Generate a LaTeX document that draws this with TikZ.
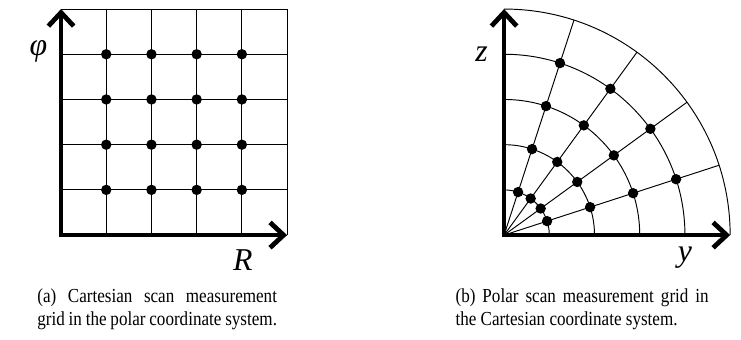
\documentclass[tikz,border=0pt]{standalone}
\usepackage{fontspec}
\setmainfont{Liberation Serif}
\newfontfamily\capfont[FakeStretch=0.86]{Liberation Serif}
\usetikzlibrary{arrows.meta}
\hyphenpenalty=10000

\tikzset{
  axes/.style={line width=3pt,line join=miter,
    {Straight Barb[length=3mm,width=5.6mm]}-{Straight Barb[length=3mm,width=5.6mm]}},
  gridline/.style={line width=0.6pt},
  dot/.style={circle,fill,inner sep=0pt,minimum size=2.3mm},
  axlabel/.style={font=\fontsize{20}{24}\selectfont\itshape},
  caption/.style={anchor=north west,align=justify,inner sep=0pt,
    font=\capfont\fontsize{12.5}{14.5}\selectfont},
}

\begin{document}
\begin{tikzpicture}
  \useasboundingbox (-1.35,-2.30) rectangle (15.04,5.20);
  % (a) measurement grid in polar coordinates
  \draw[gridline] (0,0) grid (5,5);
  \foreach \i in {1,...,4}
    \foreach \j in {1,...,4}
      \node[dot] (a\i\j) at (\i,\j) {};
  \coordinate (oa) at (0,0);
  \coordinate (ra) at (5,0);
  \coordinate (pa) at (0,5);
  \draw[axes] (pa) -- (oa) -- (ra);
  \node[axlabel] (phi) at (-0.5,4.07) {φ};
  \node[axlabel] (R) at (4.02,-0.56) {R};
  \node[caption,text width=5.3cm] (capa) at (-0.53,-1.18)
    {(a) Cartesian scan measurement grid in the polar coordinate system.};

  % (b) the same grid in cartesian coordinates
  \begin{scope}[shift={(9.8,0)}]
    \foreach \r in {1,...,5}
      \draw[gridline] (\r,0) arc[start angle=0,end angle=90,radius=\r];
    \foreach \a in {18,36,54,72}
      \draw[gridline] (0,0) -- (\a:5);
    \foreach \i in {1,...,4}
      \foreach \j in {1,...,4}
        \node[dot] (b\i\j) at (\j*18:\i) {};
    \coordinate (ob) at (0,0);
    \coordinate (yb) at (5,0);
    \coordinate (zb) at (0,5);
    \draw[axes] (zb) -- (ob) -- (yb);
    \node[axlabel] (z) at (-0.5,3.99) {z};
    \node[axlabel] (y) at (4.0,-0.5) {y};
    \node[caption,text width=5.6cm] (capb) at (-1.08,-1.18)
      {(b) Polar scan measurement grid in the Cartesian coordinate system.};
  \end{scope}
\end{tikzpicture}
\end{document}
